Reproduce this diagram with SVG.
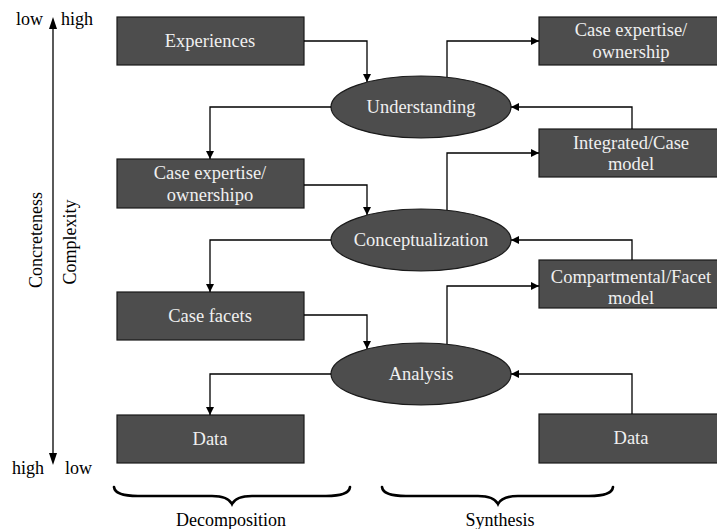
<svg xmlns="http://www.w3.org/2000/svg" width="717" height="529" viewBox="0 0 717 529">
  <defs>
    <marker id="arrow" viewBox="0 0 10 10" refX="10" refY="5" markerWidth="10" markerHeight="8" markerUnits="userSpaceOnUse" orient="auto">
      <path d="M0,0 L10,5 L0,10 Z" fill="#000"/>
    </marker>
    <style>
      .box { fill: #4d4d4d; stroke: #1a1a1a; stroke-width: 1.2; }
      .oval { fill: #4d4d4d; stroke: #1a1a1a; stroke-width: 1.2; }
      .lbl { font-family: "Liberation Serif", "Times New Roman", serif; font-size: 18.5px; fill: #f0f0f0; text-anchor: middle; }
      .txt { font-family: "Liberation Serif", "Times New Roman", serif; font-size: 18px; fill: #000; }
      .conn { fill: none; stroke: #000; stroke-width: 1.3; marker-end: url(#arrow); }
      .brace { fill: none; stroke: #000; stroke-width: 2.6; stroke-linecap: round; }
    </style>
  </defs>
  <rect width="717" height="529" fill="#fff"/>

  <!-- left axis: concreteness / complexity -->
  <g id="axis">
    <line x1="53" y1="27" x2="53" y2="455" stroke="#000" stroke-width="1.3"/>
    <path d="M53,17 L49,29 L57,29 Z" fill="#000"/>
    <path d="M53,465 L49,453 L57,453 Z" fill="#000"/>
    <text class="txt" x="16" y="25">low</text>
    <text class="txt" x="61" y="25">high</text>
    <text class="txt" x="12" y="474">high</text>
    <text class="txt" x="65" y="474">low</text>
    <text class="txt" transform="translate(42,240) rotate(-90)" text-anchor="middle" font-size="20.5">Concreteness</text>
    <text class="txt" transform="translate(76,242) rotate(-90)" text-anchor="middle" font-size="19.5">Complexity</text>
  </g>

  <!-- decomposition column -->
  <g id="experiences">
    <rect class="box" x="117" y="17" width="187" height="48"/>
    <text class="lbl" x="210" y="47">Experiences</text>
  </g>
  <g id="case-expertise-left">
    <rect class="box" x="117" y="159" width="187" height="49"/>
    <text class="lbl" x="210" y="179">Case expertise/</text>
    <text class="lbl" x="210" y="201">ownershipo</text>
  </g>
  <g id="case-facets">
    <rect class="box" x="117" y="292" width="187" height="48"/>
    <text class="lbl" x="210" y="322">Case facets</text>
  </g>
  <g id="data-left">
    <rect class="box" x="117" y="415" width="187" height="48"/>
    <text class="lbl" x="210" y="445">Data</text>
  </g>

  <!-- process ellipses -->
  <g id="understanding">
    <ellipse class="oval" cx="421" cy="107" rx="90" ry="31"/>
    <text class="lbl" x="421" y="113">Understanding</text>
  </g>
  <g id="conceptualization">
    <ellipse class="oval" cx="421" cy="240" rx="90" ry="31"/>
    <text class="lbl" x="421" y="246">Conceptualization</text>
  </g>
  <g id="analysis">
    <ellipse class="oval" cx="421" cy="374" rx="90" ry="31"/>
    <text class="lbl" x="421" y="380">Analysis</text>
  </g>

  <!-- synthesis column -->
  <g id="case-expertise-right">
    <rect class="box" x="539" y="17" width="180" height="48"/>
    <text class="lbl" x="631" y="36">Case expertise/</text>
    <text class="lbl" x="631" y="58">ownership</text>
  </g>
  <g id="integrated-model">
    <rect class="box" x="539" y="129" width="180" height="48"/>
    <text class="lbl" x="631" y="149">Integrated/Case</text>
    <text class="lbl" x="631" y="170">model</text>
  </g>
  <g id="compartmental-model">
    <rect class="box" x="539" y="260" width="180" height="48"/>
    <text class="lbl" x="631" y="283">Compartmental/Facet</text>
    <text class="lbl" x="631" y="304">model</text>
  </g>
  <g id="data-right">
    <rect class="box" x="539" y="414" width="180" height="49"/>
    <text class="lbl" x="631" y="444">Data</text>
  </g>

  <!-- connectors -->
  <g id="connectors">
    <path class="conn" d="M304,41 H367 V82"/>
    <path class="conn" d="M331,107 H210 V159"/>
    <path class="conn" d="M447,77 V41 H539"/>
    <path class="conn" d="M632,129 V107 H511"/>

    <path class="conn" d="M304,185 H367 V215"/>
    <path class="conn" d="M331,240 H210 V292"/>
    <path class="conn" d="M447,210 V153 H539"/>
    <path class="conn" d="M632,260 V240 H511"/>

    <path class="conn" d="M304,315 H367 V349"/>
    <path class="conn" d="M331,374 H210 V415"/>
    <path class="conn" d="M447,344 V286 H539"/>
    <path class="conn" d="M632,414 V374 H511"/>
  </g>

  <!-- grouping braces -->
  <g id="decomposition">
    <path class="brace" d="M114,487 Q115,496 138,496 H212 Q228,496 232,504 Q236,496 252,496 H326 Q349,496 350,487"/>
    <text class="txt" x="231" y="526" text-anchor="middle">Decomposition</text>
  </g>
  <g id="synthesis">
    <path class="brace" d="M382,487 Q383,496 406,496 H478 Q494,496 498,504 Q502,496 518,496 H589 Q612,496 613,487"/>
    <text class="txt" x="500" y="526" text-anchor="middle">Synthesis</text>
  </g>
</svg>
